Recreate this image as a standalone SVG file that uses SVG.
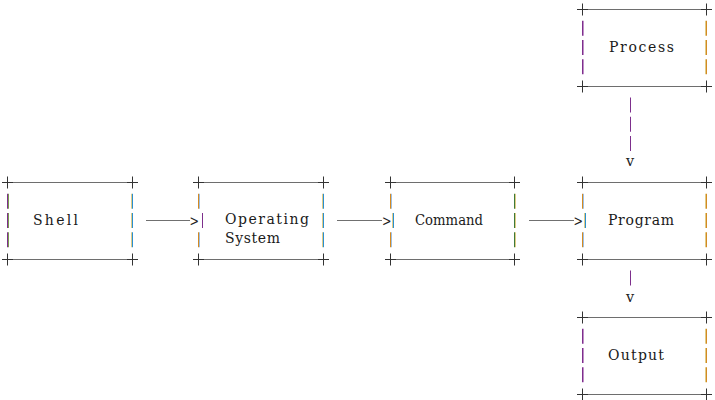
<svg xmlns="http://www.w3.org/2000/svg" width="715" height="400" viewBox="0 0 715 400">
<style>
  .hl{stroke:#6e6e6e;stroke-width:1;fill:none}
  .pl{stroke:#333;stroke-width:1;fill:none}
  .ar{stroke:#707070;stroke-width:1;fill:none}
  .pu{stroke:#7d2f8c;fill:none} .pu2{stroke:#c090c8;fill:none}
  .gr{stroke:#7a9a50;fill:none}
  .yl{stroke:#e0cc88;fill:none}
  .cy{stroke:#2a8fd0;fill:none}
  .lb{stroke:#9cc0e6;fill:none}
  .or{stroke:#d48a22;fill:none}
  .dg{stroke:#3d7a3a;fill:none}
  .t{font-family:'DejaVu Serif','Noto Serif','Liberation Serif',serif;font-size:14px;fill:#1a1a1a}
  .g{font-family:'DejaVu Serif','Noto Serif','Liberation Serif',serif;font-size:14.5px;fill:#222}
</style>
<defs>
  <path id="plus" class="pl" d="M-5 0.5H6M0.5 -5.5V6.5"/>
</defs>
<rect width="715" height="400" fill="#fff"/>

<g id="shell">
  <path class="hl" d="M12 182.5H127M12 259.5H127"/>
  <use href="#plus" x="7" y="182"/><use href="#plus" x="132" y="182"/>
  <use href="#plus" x="7" y="259"/><use href="#plus" x="132" y="259"/>
  <path class="gr" d="M8.5 193.75V208.75M8.5 213V228M8.5 232.25V247.25"/>
  <path class="pu" d="M7.5 193.75V208.75M7.5 213V228M7.5 232.25V247.25"/>
  <path class="yl" d="M131.5 193.75V208.75M131.5 213V228M131.5 232.25V247.25"/>
  <path class="cy" d="M132.5 193.75V208.75M132.5 213V228M132.5 232.25V247.25"/>
  <text class="t" x="33" y="225" textLength="45" lengthAdjust="spacing">Shell</text>
</g>

<g id="operating-system">
  <path class="hl" d="M203 182.5H318M203 259.5H318"/>
  <use href="#plus" x="198" y="182"/><use href="#plus" x="323" y="182"/>
  <use href="#plus" x="198" y="259"/><use href="#plus" x="323" y="259"/>
  <path class="lb" d="M199.5 193.75V208.75M199.5 232.25V247.25"/>
  <path class="or" d="M198.5 193.75V208.75M198.5 232.25V247.25"/>
  <path class="pu" d="M202.5 213V228"/>
  <path class="yl" d="M322.5 193.75V208.75M322.5 213V228M322.5 232.25V247.25"/>
  <path class="cy" d="M323.5 193.75V208.75M323.5 213V228M323.5 232.25V247.25"/>
  <text class="t" x="225" y="224" textLength="84" lengthAdjust="spacing">Operating</text>
  <text class="t" x="225" y="243" textLength="55" lengthAdjust="spacing">System</text>
</g>

<g id="command">
  <path class="hl" d="M395 182.5H509M395 259.5H509"/>
  <use href="#plus" x="390" y="182"/><use href="#plus" x="514" y="182"/>
  <use href="#plus" x="390" y="259"/><use href="#plus" x="514" y="259"/>
  <path class="lb" d="M391.5 193.75V208.75M391.5 232.25V247.25"/>
  <path class="or" d="M390.5 193.75V208.75M390.5 232.25V247.25"/>
  <path class="yl" d="M392.5 213V228"/>
  <path class="cy" d="M393.5 213V228"/>
  <path class="yl" d="M515.5 193.75V208.75M515.5 213V228M515.5 232.25V247.25"/>
  <path class="dg" d="M514.5 193.75V208.75M514.5 213V228M514.5 232.25V247.25"/>
  <text class="t" x="415" y="225" textLength="68" lengthAdjust="spacingAndGlyphs">Command</text>
</g>

<g id="program">
  <path class="hl" d="M587 182.5H701M587 259.5H701"/>
  <use href="#plus" x="582" y="182"/><use href="#plus" x="706" y="182"/>
  <use href="#plus" x="582" y="259"/><use href="#plus" x="706" y="259"/>
  <path class="lb" d="M583.5 193.75V208.75M583.5 232.25V247.25"/>
  <path class="or" d="M582.5 193.75V208.75M582.5 232.25V247.25"/>
  <path class="yl" d="M584.5 213V228"/>
  <path class="cy" d="M585.5 213V228"/>
  <path class="yl" d="M705.5 193.75V208.75M705.5 213V228M705.5 232.25V247.25"/>
  <path class="or" d="M706.5 193.75V208.75M706.5 213V228M706.5 232.25V247.25"/>
  <text class="t" x="608" y="225" textLength="66" lengthAdjust="spacing">Program</text>
</g>

<g id="process">
  <path class="hl" d="M587 9.5H701M587 86.5H701"/>
  <use href="#plus" x="582" y="9"/><use href="#plus" x="706" y="9"/>
  <use href="#plus" x="582" y="86"/><use href="#plus" x="706" y="86"/>
  <path class="pu2" d="M583.5 20.75V35.75M583.5 40V55M583.5 59.25V74.25"/>
  <path class="pu" d="M582.5 20.75V35.75M582.5 40V55M582.5 59.25V74.25"/>
  <path class="yl" d="M705.5 20.75V35.75M705.5 40V55M705.5 59.25V74.25"/>
  <path class="or" d="M706.5 20.75V35.75M706.5 40V55M706.5 59.25V74.25"/>
  <text class="t" x="609" y="52" textLength="65" lengthAdjust="spacing">Process</text>
</g>

<g id="output">
  <path class="hl" d="M587 317.5H701M587 394.5H701"/>
  <use href="#plus" x="582" y="317"/><use href="#plus" x="706" y="317"/>
  <use href="#plus" x="582" y="394"/><use href="#plus" x="706" y="394"/>
  <path class="pu2" d="M583.5 328.75V343.75M583.5 348V363M583.5 367.25V382.25"/>
  <path class="pu" d="M582.5 328.75V343.75M582.5 348V363M582.5 367.25V382.25"/>
  <path class="yl" d="M705.5 328.75V343.75M705.5 348V363M705.5 367.25V382.25"/>
  <path class="or" d="M706.5 328.75V343.75M706.5 348V363M706.5 367.25V382.25"/>
  <text class="t" x="608" y="360" textLength="56" lengthAdjust="spacing">Output</text>
</g>

<g id="connectors">
  <path class="ar" d="M146 220.5H190"/>
  <text class="g" x="189.5" y="226" textLength="9.5" lengthAdjust="spacingAndGlyphs">&gt;</text>
  <path class="ar" d="M337 220.5H382"/>
  <text class="g" x="382" y="226" textLength="9.5" lengthAdjust="spacingAndGlyphs">&gt;</text>
  <path class="ar" d="M529 220.5H574"/>
  <text class="g" x="573.5" y="226" textLength="9.5" lengthAdjust="spacingAndGlyphs">&gt;</text>
  <path class="pu" d="M630.5 97.5V112.5M630.5 116.75V131.75M630.5 136V151"/>
  <text class="g" x="630" y="166" text-anchor="middle">v</text>
  <path class="pu" d="M630.5 270.5V285.5"/>
  <text class="g" x="630" y="302" text-anchor="middle">v</text>
</g>
</svg>
